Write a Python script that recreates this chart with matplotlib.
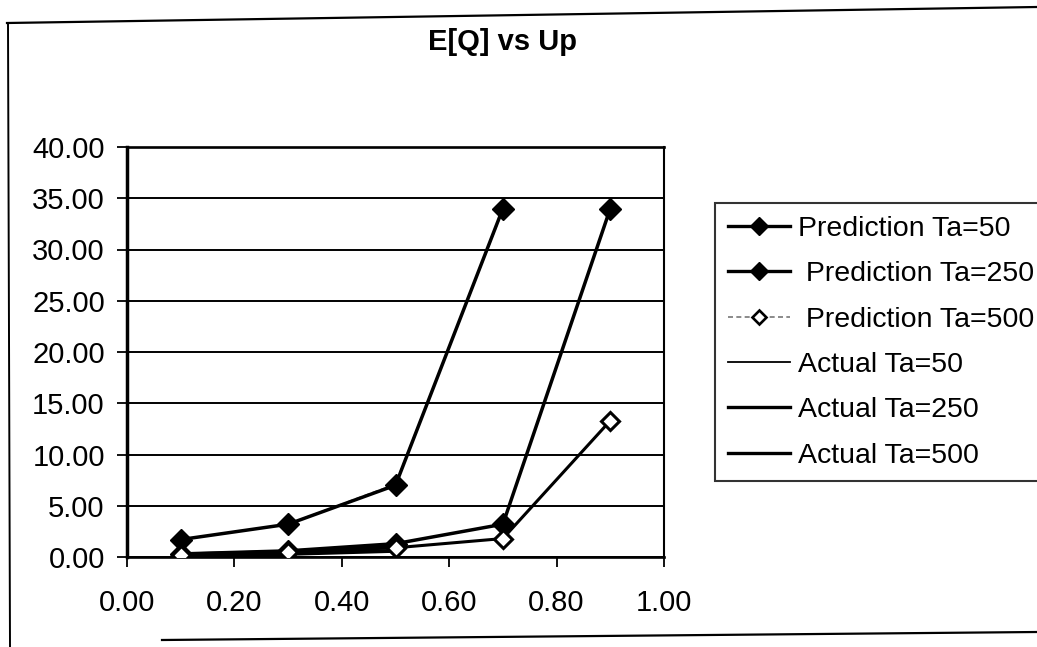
import matplotlib
matplotlib.use("Agg")
import matplotlib.pyplot as plt
from matplotlib.lines import Line2D
from matplotlib.ticker import FormatStrFormatter

plt.rcParams['font.family'] = ['Liberation Sans', 'DejaVu Sans']

# ---- data ----
up = [0.1, 0.3, 0.5, 0.7, 0.9]
pred_ta50 = [1.7, 3.2, 7.0, 34.0]
pred_ta250 = [0.3, 0.6, 1.3, 3.2, 34.0]
pred_ta500 = [0.2, 0.5, 0.9, 1.8, 13.3]
act_ta50 = [1.7, 3.2, 7.1, 33.9]
act_ta250 = [0.25, 0.5, 1.0]
act_ta500 = [0.1, 0.3, 0.6]
xticks = [0.0, 0.2, 0.4, 0.6, 0.8, 1.0]
yticks = [0, 5, 10, 15, 20, 25, 30, 35, 40]
labels = ["Prediction Ta=50", " Prediction Ta=250", " Prediction Ta=500",
          "Actual Ta=50", "Actual Ta=250", "Actual Ta=500"]
title = "E[Q] vs Up"

W, H = 1037, 647
fig = plt.figure(figsize=(W / 100, H / 100), dpi=100)
fig.patch.set_facecolor('white')

# outer chart border (scanned, slightly tilted)
def fx(x): return x / W
def fy(y): return 1 - y / H
fig.add_artist(Line2D([fx(7), fx(1037)], [fy(23), fy(7)], color='black', lw=1.6))
fig.add_artist(Line2D([fx(8), fx(10)], [fy(23), fy(647)], color='black', lw=1.4))
fig.add_artist(Line2D([fx(162), fx(1037)], [fy(640), fy(632)], color='black', lw=1.6))

ax = fig.add_axes([127 / W, 1 - 557 / H, (664 - 127) / W, (557 - 147) / H])
ax.set_xlim(0, 1)
ax.set_ylim(0, 40)
ax.set_xticks(xticks)
ax.set_yticks(yticks)
ax.xaxis.set_major_formatter(FormatStrFormatter('%.2f'))
ax.yaxis.set_major_formatter(FormatStrFormatter('%.2f'))
ax.tick_params(axis='both', direction='out', length=7, width=1.3, colors='black',
               labelsize=21)
ax.tick_params(axis='y', pad=9)
ax.tick_params(axis='x', pad=16)
ax.yaxis.grid(True, color='black', lw=1.4)
ax.set_axisbelow(True)
for s, lw in [('left', 2.5), ('top', 1.9), ('right', 1.5), ('bottom', 1.9)]:
    ax.spines[s].set_linewidth(lw)
    ax.spines[s].set_color('black')

n50 = len(pred_ta50)
ax.plot(up[:len(act_ta250)], act_ta250, color='black', lw=2.8, zorder=3)
ax.plot(up[:len(act_ta500)], act_ta500, color='black', lw=2.8, zorder=3)
ax.plot(up[:len(act_ta50)], act_ta50, color='#555555', lw=1.3, ls=(0, (3, 2)), zorder=3)
ax.plot(up[:n50], pred_ta50, color='black', lw=2.5, marker='D', ms=11,
        mfc='black', mec='black', zorder=4)
ax.plot(up, pred_ta250, color='black', lw=2.5, marker='D', ms=11,
        mfc='black', mec='black', zorder=4)
ax.plot(up, pred_ta500, color='black', lw=2.2, marker='D', ms=9.5,
        mfc='white', mec='black', mew=2.2, zorder=5)

fig.text(502 / W, 1 - 42 / H, title, fontsize=21, fontweight='bold',
         ha='center', va='center')

handles = [
    Line2D([], [], color='black', lw=2.4, marker='D', ms=9, mfc='black', mec='black'),
    Line2D([], [], color='black', lw=2.4, marker='D', ms=9, mfc='black', mec='black'),
    Line2D([], [], color='#777777', lw=1.2, ls=(0, (3, 2)), marker='D', ms=7,
           mfc='white', mec='black', mew=1.9),
    Line2D([], [], color='black', lw=1.3),
    Line2D([], [], color='black', lw=2.4),
    Line2D([], [], color='black', lw=2.4),
]
leg = fig.legend(handles, labels, loc='upper left',
                 bbox_to_anchor=(715 / W, 1 - 203 / H), fontsize=20.5,
                 frameon=True, fancybox=False, edgecolor='black',
                 handlelength=2.2, handletextpad=0.25, labelspacing=0.68,
                 borderpad=0.45, borderaxespad=0)
leg.get_frame().set_linewidth(1.5)

fig.savefig('out.png', dpi=100, facecolor='white')
